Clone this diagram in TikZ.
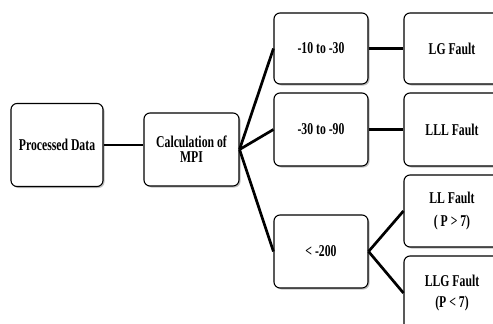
\documentclass[tikz,border=0pt]{standalone}
\usepackage{fontspec}
\setmainfont{Liberation Serif}[FakeStretch=0.71]
\usetikzlibrary{shadows}
\begin{document}
\begin{tikzpicture}[x=1pt,y=-1pt,
 box/.style={draw=black, line width=1.1pt, rounded corners=6pt, fill=white,
   drop shadow={shadow xshift=1.5pt, shadow yshift=-1.5pt, opacity=0.5},
   font=\bfseries\fontsize{16.5}{15}\selectfont, align=center, inner sep=0pt},
 link/.style={line width=2.7pt}]
\useasboundingbox (0,0) rectangle (493,324);
\clip (0,0) rectangle (493,324);
\node[box, minimum width=92pt, minimum height=83pt] (pd) at (57,145) {Processed Data};
\node[box, minimum width=95pt, minimum height=73pt] (calc) at (191.5,149.5) {Calculation of\\MPI};
\node[box, minimum width=94pt, minimum height=71pt] (b1) at (321,48.5) {-10 to -30};
\node[box, minimum width=94pt, minimum height=73pt] (b2) at (321,129.5) {-30 to -90};
\node[box, minimum width=94pt, minimum height=73pt] (b3) at (321,251.5) {< -200};
\node[box, minimum width=96pt, minimum height=71pt] (f1) at (452,48.5) {LG Fault};
\node[box, minimum width=96pt, minimum height=73pt] (f2) at (452,129.5) {LLL Fault};
\node[box, minimum width=96pt, minimum height=72pt] (f3) at (452,211) {LL Fault\\[8pt]( P > 7)};
\node[box, minimum width=96pt, minimum height=74pt] (f4) at (452,293) {LLG Fault\\[6pt](P < 7)};
\draw[link] (pd.east) -- (pd.east -| calc.west);
\draw[link] (calc.east) -- (b1.west);
\draw[link] (calc.east) -- (b2.west);
\draw[link] (calc.east) -- (b3.west);
\draw[link] (b1.east) -- (f1.west);
\draw[link] (b2.east) -- (f2.west);
\draw[link] (b3.east) -- (f3.west);
\draw[link] (b3.east) -- (f4.west);
\end{tikzpicture}
\end{document}
